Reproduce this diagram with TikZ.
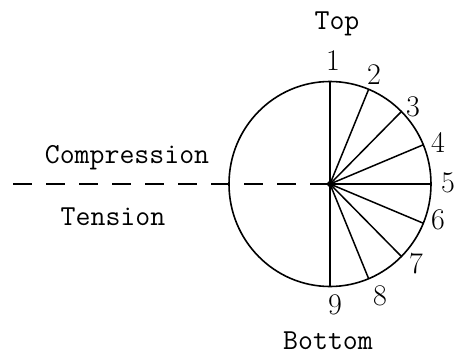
\documentclass[tikz,border=0pt]{standalone}
\usetikzlibrary{calc}
\begin{document}
\begin{tikzpicture}[x=1pt,y=-1pt,
  lbl/.style={font=\fontsize{29}{32}\selectfont\ttfamily, inner sep=0pt, anchor=base},
  num/.style={font=\fontsize{30}{32}\selectfont, inner sep=0pt},
  spoke/.style={line width=1.5pt},
  rim/.style={line width=1.6pt}]
\useasboundingbox (0,0) rectangle (461,356);
\coordinate (c) at (330,184);
\draw[rim] (c) ellipse [x radius=101, y radius=102.5];
\foreach \a/\n in {90/1,67.5/2,45/3,22.5/4,0/5,-22.5/6,-45/7,-67.5/8,-90/9}{
  \coordinate (p\n) at ($(c)+({101*cos(\a)},{-102.5*sin(\a)})$);
  \draw[spoke] (c) -- (p\n);
}
\fill (c) circle (3);
\coordinate (dl) at (13,184);
\draw[line width=1.5pt, dash pattern=on 19pt off 14pt] (dl) -- (c);
\node[num] (n1) at (333,61) {1};
\node[num] (n2) at (374,75) {2};
\node[num] (n3) at (413,107) {3};
\node[num] (n4) at (438,142) {4};
\node[num] (n5) at (448,183) {5};
\node[num] (n6) at (438,220) {6};
\node[num] (n7) at (416,264) {7};
\node[num] (n8) at (380,296) {8};
\node[num] (n9) at (335,305) {9};
\node[lbl] (top) at (337,29) {Top};
\node[lbl] (bot) at (328,349) {Bottom};
\node[lbl] (comp) at (127,163) {Compression};
\node[lbl] (ten) at (113,225) {Tension};
\end{tikzpicture}
\end{document}
